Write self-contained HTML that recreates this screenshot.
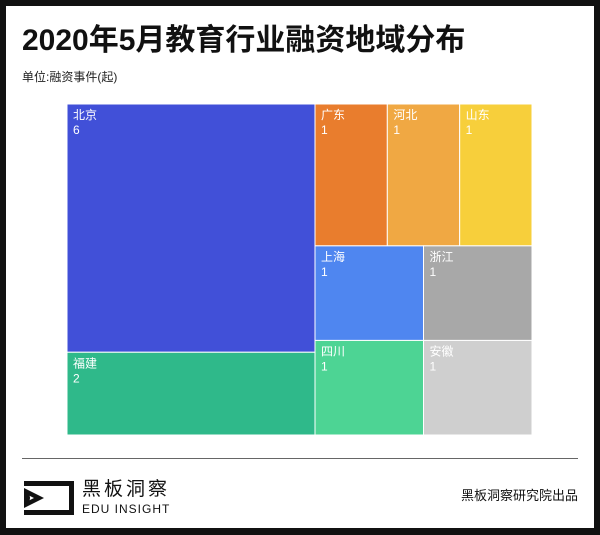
<!DOCTYPE html>
<html><head><meta charset="utf-8"><style>
body{margin:0;width:600px;height:535px;background:#111;font-family:"Liberation Sans","Noto Sans CJK SC",sans-serif;}
#frame{position:absolute;left:6px;top:6px;width:588px;height:522px;background:#fff;}
.t{position:absolute;white-space:nowrap;line-height:1;}
</style></head><body>
<div id="frame"></div>
<div class="t" style="left:22px;top:26px;font-size:30px;font-weight:bold;color:#111;">2020年5月教育行业融资地域分布</div>
<div class="t" style="left:22px;top:71px;font-size:12px;color:#222;">单位:融资事件(起)</div>
<svg id="tm" width="600" height="535" style="position:absolute;left:0;top:0;"></svg>
<div style="position:absolute;left:22px;top:458px;width:556px;height:1px;background:#666;"></div>
<svg width="56" height="38" style="position:absolute;left:22px;top:479px;">
<polygon points="2,2 52,2 52,36 2,36 2,31 47,31 47,7 2,7" fill="#111"/>
<polygon points="2,9 22,19 2,29 2,24 12,19 2,14" fill="#111"/>
<path d="M2,13 A6,6 0 0 1 2,25 Z" fill="#111"/>
</svg>
<div class="t" style="left:82px;top:480px;font-size:19px;letter-spacing:3px;color:#111;">黑板洞察</div>
<div class="t" style="left:82px;top:503px;font-size:12px;letter-spacing:1px;color:#111;">EDU INSIGHT</div>
<div class="t" style="right:22px;top:489px;font-size:13px;color:#111;">黑板洞察研究院出品</div>
<script>
const leftNames=["北京","福建"];
const leftValues=[6,2];
const leftColors=["#4150d8","#2fb98a"];
const rightRows=[["广东","河北","山东"],["上海","浙江"],["四川","安徽"]];
const rightValues=[[1,1,1],[1,1],[1,1]];
const rightColors=[["#e97d2d","#f0a843","#f7cf3b"],["#4f86f0","#a8a8a8"],["#4dd494","#cfcfcf"]];
const X0=67,Y0=104,W=465,H=331;
const svg=document.getElementById('tm');
const NS="http://www.w3.org/2000/svg";
const sum=a=>a.reduce((s,v)=>s+v,0);
const leftTot=sum(leftValues), rightTot=sum(rightValues.map(sum));
const leftW=W*leftTot/(leftTot+rightTot);
function cell(x,y,w,h,name,val,color){
  const r=document.createElementNS(NS,'rect');
  
  
  r.setAttribute('x',x);r.setAttribute('y',y);r.setAttribute('width',w);r.setAttribute('height',h);
  r.setAttribute('fill',color);r.setAttribute('stroke','#fff');r.setAttribute('stroke-width','1');
  svg.appendChild(r);
  [name,String(val)].forEach((s,i)=>{
    const t=document.createElementNS(NS,'text');
    
    
    t.setAttribute('x',x+6);t.setAttribute('y',y+15+i*15);
    t.setAttribute('font-size','12');t.setAttribute('fill','#fff');
    t.textContent=s;svg.appendChild(t);
  });
}
let y=Y0;
leftNames.forEach((n,i)=>{const h=H*leftValues[i]/leftTot;cell(X0,y,leftW,h,n,leftValues[i],leftColors[i]);y+=h;});
y=Y0;
rightRows.forEach((row,ri)=>{
  const rt=sum(rightValues[ri]);const h=H*rt/rightTot;let x=X0+leftW;
  row.forEach((n,ci)=>{const w=(W-leftW)*rightValues[ri][ci]/rt;cell(x,y,w,h,n,rightValues[ri][ci],rightColors[ri][ci]);x+=w;});
  y+=h;
});
</script>
</body></html>
